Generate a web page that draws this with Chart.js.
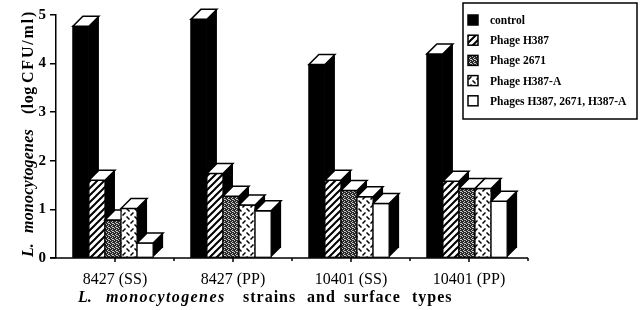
<!DOCTYPE html>
<html>
<head>
<meta charset="utf-8">
<script src="https://cdn.jsdelivr.net/npm/chart.js@4.4.1/dist/chart.umd.min.js"></script>
<style>
  html, body { margin: 0; padding: 0; background: #fff; }
  #wrap { width: 642px; height: 310px; }
</style>
</head>
<body>
<div id="wrap"><canvas id="chart" width="642" height="310"></canvas></div>
<script>
// data
const categories = ["8427 (SS)", "8427 (PP)", "10401 (SS)", "10401 (PP)"];
const seriesNames = ["control", "Phage H387", "Phage 2671", "Phage H387-A", "Phages H387, 2671, H387-A"];
const control = [4.77, 4.91, 3.98, 4.2];
const phageH387 = [1.6, 1.74, 1.6, 1.58];
const phage2671 = [0.78, 1.27, 1.39, 1.43];
const phageH387A = [1.02, 1.09, 1.26, 1.43];
const phagesAll = [0.31, 0.97, 1.12, 1.17];
const yTicks = [0, 1, 2, 3, 4, 5];

const SERIF = "'Liberation Serif', 'Times New Roman', serif";
const DX = 10, DY = 10; // 3d depth of the bars
const SHIFT = -2;       // bars sit a little left of the tick

function tile(w, h, paint) {
  const c = document.createElement("canvas");
  c.width = w; c.height = h;
  const t = c.getContext("2d");
  t.fillStyle = "#fff";
  t.fillRect(0, 0, w, h);
  paint(t);
  return document.getElementById("chart").getContext("2d").createPattern(c, "repeat");
}

// fills
const hatch = tile(7, 7, t => {
  t.strokeStyle = "#000"; t.lineWidth = 2;
  t.beginPath();
  t.moveTo(-1, 8); t.lineTo(8, -1);
  t.moveTo(-1, 1); t.lineTo(1, -1);
  t.moveTo(6, 8); t.lineTo(8, 6);
  t.stroke();
});
const stipple = tile(4, 4, t => {
  t.fillStyle = "#2a2a2a"; t.fillRect(0, 0, 4, 4);
  t.fillStyle = "#c8c8c8";
  [[0, 0], [2, 1], [1, 2], [3, 3], [2, 3]].forEach(p => t.fillRect(p[0], p[1], 1, 1));
});
const zigzag = tile(8, 8, t => {
  t.strokeStyle = "#000"; t.lineWidth = 1.5;
  t.beginPath();
  t.moveTo(0.5, 0.5); t.lineTo(3.5, 3.5);
  t.moveTo(4.5, 7.5); t.lineTo(7.5, 4.5);
  t.stroke();
});
const fills = ["#000", hatch, stipple, zigzag, "#fff"];
const series = [control, phageH387, phage2671, phageH387A, phagesAll];

// draws every bar as a block, left to right, from the bar elements
const bars3d = {
  id: "bars3d",
  afterDatasetsDraw(chart) {
    const ctx = chart.ctx;
    ctx.save();
    ctx.translate(SHIFT, 0);
    ctx.lineJoin = "miter";
    categories.forEach((c, j) => {
      series.forEach((s, d) => {
        const bar = chart.getDatasetMeta(d).data[j];
        const { x, y, base, width } = bar.getProps(["x", "y", "base", "width"], true);
        const l = x - width / 2, r = x + width / 2;
        // front
        ctx.fillStyle = fills[d];
        ctx.fillRect(l, y, width, base - y);
        ctx.strokeStyle = "#000"; ctx.lineWidth = 1.2;
        ctx.strokeRect(l, y, width, base - y);
        // side
        ctx.fillStyle = "#000";
        ctx.beginPath();
        ctx.moveTo(r, y); ctx.lineTo(r + DX, y - DY);
        ctx.lineTo(r + DX, base - DY); ctx.lineTo(r, base);
        ctx.closePath(); ctx.fill();
        // top
        ctx.beginPath();
        ctx.moveTo(l, y); ctx.lineTo(l + DX, y - DY);
        ctx.lineTo(r + DX, y - DY); ctx.lineTo(r, y);
        ctx.closePath();
        ctx.fillStyle = "#fff"; ctx.fill();
        ctx.lineWidth = 1.5;
        ctx.stroke();
      });
    });
    ctx.restore();
  }
};

// pieces: [text, italic, x offset, letter spacing]
function drawRun(ctx, pieces, size) {
  pieces.forEach(p => {
    ctx.font = (p[1] ? "italic " : "") + "bold " + size + "px " + SERIF;
    ctx.letterSpacing = p[3] + "px";
    ctx.fillText(p[0], p[2], 0);
  });
  ctx.letterSpacing = "0px";
}

const decor = {
  id: "decor",
  afterDraw(chart) {
    const ctx = chart.ctx;
    const xs = chart.scales.x, area = chart.chartArea;
    ctx.save();
    // x axis line and tick marks
    ctx.strokeStyle = "#000"; ctx.lineWidth = 1.5;
    ctx.beginPath();
    ctx.moveTo(50, area.bottom); ctx.lineTo(area.right, area.bottom);
    const half = (xs.getPixelForValue(1) - xs.getPixelForValue(0)) / 2;
    categories.forEach((c, i) => {
      const cx = xs.getPixelForValue(i);
      ctx.moveTo(cx, area.bottom); ctx.lineTo(cx, area.bottom + 4);
      ctx.moveTo(cx + half, area.bottom); ctx.lineTo(cx + half, area.bottom + 3);
    });
    ctx.stroke();

    ctx.fillStyle = "#000";
    ctx.textBaseline = "alphabetic";
    ctx.textAlign = "left";
    // x title
    ctx.save();
    ctx.translate(78, 302);
    drawRun(ctx, [["L.", true, 0, 0], ["monocytogenes", true, 28, 1.4],
      ["strains", false, 165, 1], ["and", false, 229, 1], ["surface", false, 266, 1], ["types", false, 334, 1]], 16);
    ctx.restore();
    // y title
    ctx.save();
    ctx.translate(33, 257);
    ctx.rotate(-Math.PI / 2);
    drawRun(ctx, [["L.", true, 0, 0], ["monocytogenes", true, 24, 0.2],
      ["(log", false, 143, 0.5], ["CFU/ml)", false, 174, 1.8]], 16);
    ctx.restore();

    // legend
    const lx = 463, ly = 3, lw = 174, lh = 116;
    ctx.fillStyle = "#fff";
    ctx.fillRect(lx, ly, lw, lh);
    ctx.lineWidth = 1.5;
    ctx.strokeRect(lx, ly, lw, lh);
    ctx.font = "bold 11.5px " + SERIF;
    ctx.textBaseline = "middle";
    seriesNames.forEach((name, i) => {
      const cy = 20 + i * 20.2;
      ctx.fillStyle = fills[i];
      ctx.fillRect(468, cy - 5, 10, 10);
      ctx.lineWidth = 1.5;
      ctx.strokeRect(468, cy - 5, 10, 10);
      ctx.fillStyle = "#000";
      ctx.fillText(name, 490, cy + 1);
    });
    ctx.restore();
  }
};

new Chart(document.getElementById("chart"), {
  type: "bar",
  data: {
    labels: categories,
    datasets: series.map((vals, i) => ({
      label: seriesNames[i],
      data: vals,
      backgroundColor: "rgba(0,0,0,0)",
      borderWidth: 0,
      categoryPercentage: 0.68,
      barPercentage: 1.0
    }))
  },
  options: {
    responsive: false,
    animation: false,
    devicePixelRatio: 1,
    layout: { padding: { top: 15, right: 114, left: 0, bottom: 0 } },
    plugins: { legend: { display: false }, tooltip: { enabled: false } },
    scales: {
      x: {
        grid: { display: false },
        border: { display: false },
        ticks: { color: "#000", font: { family: SERIF, size: 16 }, padding: 4, maxRotation: 0 },
        afterFit: s => { s.height = 52; }
      },
      y: {
        min: 0, max: 5,
        afterBuildTicks: s => { s.ticks = yTicks.map(v => ({ value: v })); },
        grid: { drawOnChartArea: false, tickLength: 6, color: "#000", lineWidth: 1.5 },
        border: { display: true, color: "#000", width: 1.5 },
        ticks: { color: "#000", font: { family: SERIF, size: 15, weight: "bold" }, padding: 4 },
        afterFit: s => { s.width = 56; }
      }
    }
  },
  plugins: [bars3d, decor]
});
</script>
</body>
</html>
